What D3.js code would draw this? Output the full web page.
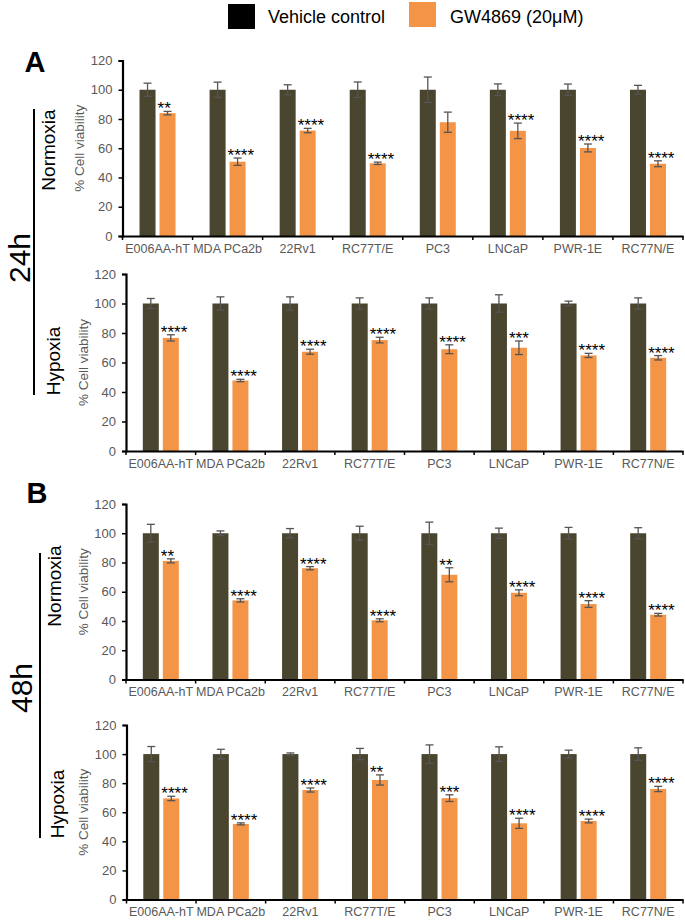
<!DOCTYPE html>
<html><head><meta charset="utf-8">
<script src="https://cdn.jsdelivr.net/npm/d3@7"></script>
<style>html,body{margin:0;padding:0;background:#fff;}svg{display:block;font-family:"Liberation Sans",Arial,sans-serif;}</style>
</head><body>
<svg id="chart" width="685" height="921"></svg>
<script>
// ---------- DATA ----------
const categories = ["E006AA-hT","MDA PCa2b","22Rv1","RC77T/E","PC3","LNCaP","PWR-1E","RC77N/E"];
const seriesNames = ["Vehicle control","GW4869 (20\u03bcM)"];
const yTicks = [0,20,40,60,80,100,120];

// 24h Normoxia
const n24Ctrl    = [100,100,100,100,100,100,100,100];
const n24CtrlErr = [4.5,5.2,3.4,5.3,8.7,4.0,3.9,3.0];
const n24GW      = [84.0,50.8,72.1,49.7,77.8,71.9,60.2,49.4];
const n24GWErr   = [1.2,2.5,1.5,0.8,6.9,5.3,2.7,2.0];
const n24Sig     = ["**","****","****","****","","****","****","****"];
// 24h Hypoxia
const h24Ctrl    = [100,100,100,100,100,100,100,100];
const h24CtrlErr = [3.4,4.5,4.5,3.8,3.8,5.9,1.6,3.8];
const h24GW      = [76.7,47.8,67.3,75.2,69.0,70.0,64.8,63.2];
const h24GWErr   = [2.1,0.8,1.7,1.9,3.0,4.6,1.4,1.5];
const h24Sig     = ["****","****","****","****","****","***","****","****"];
// 48h Normoxia
const n48Ctrl    = [100,100,100,100,100,100,100,100];
const n48CtrlErr = [6.1,1.6,3.2,4.8,7.6,3.5,4.0,3.8];
const n48GW      = [81.1,54.1,76.1,40.5,71.6,59.3,51.6,44.3];
const n48GWErr   = [1.4,1.1,1.1,1.0,4.8,2.0,2.3,0.9];
const n48Sig     = ["**","****","****","****","**","****","****","****"];
// 48h Hypoxia
const h48Ctrl    = [100,100,100,100,100,100,100,100];
const h48CtrlErr = [5.2,3.3,0.8,3.9,6.3,5.0,2.7,4.3];
const h48GW      = [69.5,52.0,75.3,82.2,69.7,52.4,54.0,76.0];
const h48GWErr   = [1.5,0.7,1.4,3.5,2.3,3.5,1.3,1.8];
const h48Sig     = ["****","****","****","**","***","****","****","****"];

// ---------- LAYOUT ----------
const CTRL = "#49452f", GW = "#f39447", ERR = "#555555", GREY = "#595959";
const panels = [
  {cond:"Normoxia", ctrl:n24Ctrl, ctrlErr:n24CtrlErr, gw:n24GW, gwErr:n24GWErr, sig:n24Sig, ax:122.5, top:60.5, bottom:236, condX:48, condY:150},
  {cond:"Hypoxia",  ctrl:h24Ctrl, ctrlErr:h24CtrlErr, gw:h24GW, gwErr:h24GWErr, sig:h24Sig, ax:126, top:274, bottom:451, condX:53, condY:361},
  {cond:"Normoxia", ctrl:n48Ctrl, ctrlErr:n48CtrlErr, gw:n48GW, gwErr:n48GWErr, sig:n48Sig, ax:126, top:504, bottom:679.5, condX:54, condY:586},
  {cond:"Hypoxia",  ctrl:h48Ctrl, ctrlErr:h48CtrlErr, gw:h48GW, gwErr:h48GWErr, sig:h48Sig, ax:126.5, top:725, bottom:899.5, condX:57, condY:804}
];
const xRight = 683, barW = 16, barGap = 4;

const svg = d3.select("#chart");

// Legend
const leg = svg.append("g");
leg.append("rect").attr("x",228).attr("y",4).attr("width",27).attr("height",25).attr("fill","#000");
leg.append("text").attr("x",268).attr("y",22.5).attr("font-size",18).attr("fill","#000").text(seriesNames[0]);
leg.append("rect").attr("x",409).attr("y",2).attr("width",27).attr("height",25).attr("fill",GW);
leg.append("text").attr("x",450).attr("y",22.5).attr("font-size",18).attr("fill","#000").text(seriesNames[1]);

// Panel letters & time brackets
svg.append("text").attr("x",35).attr("y",72).attr("text-anchor","middle").attr("font-size",29).attr("font-weight","bold").text("A");
svg.append("text").attr("x",37).attr("y",503).attr("text-anchor","middle").attr("font-size",29).attr("font-weight","bold").text("B");
svg.append("line").attr("x1",34).attr("x2",34).attr("y1",109).attr("y2",395).attr("stroke","#000").attr("stroke-width",2);
svg.append("line").attr("x1",40).attr("x2",40).attr("y1",553).attr("y2",838).attr("stroke","#000").attr("stroke-width",2);
svg.append("text").attr("transform","translate(19,258) rotate(-90)").attr("text-anchor","middle").attr("dominant-baseline","central").attr("font-size",30).text("24h");
svg.append("text").attr("transform","translate(21,688) rotate(-90)").attr("text-anchor","middle").attr("dominant-baseline","central").attr("font-size",30).text("48h");

panels.forEach(p => {
  const g = svg.append("g");
  const y = d3.scaleLinear().domain([0,120]).range([p.bottom,p.top]);
  const x = d3.scaleBand().domain(categories).range([p.ax,xRight]).padding(0);
  const off = (x.bandwidth() - (2*barW + barGap))/2;

  // condition label & y label
  g.append("text").attr("transform",`translate(${p.condX},${p.condY}) rotate(-90)`).attr("text-anchor","middle").attr("dominant-baseline","central").attr("font-size",19).text(p.cond);
  g.append("text").attr("transform",`translate(${p.ax-43},${(p.top+p.bottom)/2}) rotate(-90)`).attr("text-anchor","middle").attr("dominant-baseline","central").attr("font-size",13.5).attr("fill",GREY).text("% Cell viability");

  // bars
  const idx = categories.map((c,i)=>i);
  g.selectAll(".c").data(idx).join("rect")
    .attr("x",i=>x(categories[i])+off).attr("width",barW)
    .attr("y",i=>y(p.ctrl[i])).attr("height",i=>y(0)-y(p.ctrl[i])).attr("fill",CTRL);
  g.selectAll(".o").data(idx).join("rect")
    .attr("x",i=>x(categories[i])+off+barW+barGap).attr("width",barW)
    .attr("y",i=>y(p.gw[i])).attr("height",i=>y(0)-y(p.gw[i])).attr("fill",GW);

  // error bars
  const errs = [];
  idx.forEach(i=>{
    errs.push({cx:x(categories[i])+off+barW/2, v:p.ctrl[i], e:p.ctrlErr[i]});
    errs.push({cx:x(categories[i])+off+barW*1.5+barGap, v:p.gw[i], e:p.gwErr[i]});
  });
  const eg = g.selectAll(".e").data(errs).join("g").attr("stroke",ERR).attr("stroke-width",1.3);
  eg.append("line").attr("x1",d=>d.cx).attr("x2",d=>d.cx).attr("y1",d=>y(d.v+d.e)).attr("y2",d=>y(d.v-d.e));
  eg.append("line").attr("x1",d=>d.cx-4).attr("x2",d=>d.cx+4).attr("y1",d=>y(d.v+d.e)).attr("y2",d=>y(d.v+d.e));
  eg.append("line").attr("x1",d=>d.cx-4).attr("x2",d=>d.cx+4).attr("y1",d=>y(d.v-d.e)).attr("y2",d=>y(d.v-d.e));

  // significance
  g.selectAll(".s").data(idx).join("text")
    .attr("x",i=>x(categories[i])+off+barW+barGap-2)
    .attr("y",i=>y(p.gw[i]+p.gwErr[i])+3)
    .attr("font-size",17).attr("fill","#000").text(i=>p.sig[i]);

  // y axis
  const ya = g.append("g").attr("transform",`translate(${p.ax},0)`)
    .call(d3.axisLeft(y).tickValues(yTicks).tickSize(4).tickPadding(6));
  ya.select(".domain").attr("stroke","#000").attr("stroke-width",2.2);
  ya.selectAll(".tick line").attr("stroke","#000").attr("stroke-width",1.5);
  ya.selectAll(".tick text").attr("font-size",13).attr("fill",GREY).attr("font-family","Liberation Sans, Arial, sans-serif");

  // x axis
  const xa = g.append("g").attr("transform",`translate(0,${p.bottom})`)
    .call(d3.axisBottom(x).tickSize(0).tickPadding(8));
  xa.select(".domain").attr("stroke","#000").attr("stroke-width",2.2);
  xa.selectAll(".tick text").attr("font-size",12.5).attr("fill",GREY).attr("font-family","Liberation Sans, Arial, sans-serif");
  const bounds = categories.map(c=>x(c)).concat([xRight]);
  g.selectAll(".b").data(bounds).join("line")
    .attr("x1",d=>d).attr("x2",d=>d).attr("y1",p.bottom).attr("y2",p.bottom+4)
    .attr("stroke","#000").attr("stroke-width",1.5);
});
</script>
</body></html>
